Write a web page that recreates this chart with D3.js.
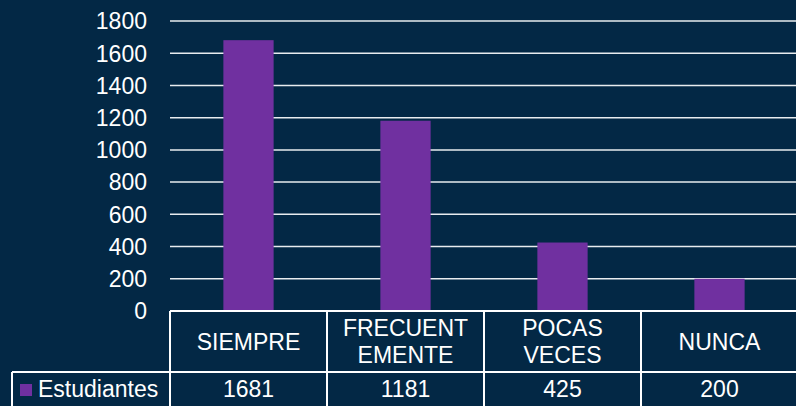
<!DOCTYPE html>
<html>
<head>
<meta charset="utf-8">
<script src="https://cdn.jsdelivr.net/npm/d3@7"></script>
<style>
  body { margin: 0; background: #032845; }
  svg { display: block; }
  text { font-family: "Liberation Sans", Arial, sans-serif; fill: #ffffff; }
</style>
</head>
<body>
<svg id="chart"></svg>
<script>
// data
var categories = ['SIEMPRE', 'FRECUENTEMENTE', 'POCAS VECES', 'NUNCA'];
var values = [1681, 1181, 425, 200];
var seriesName = 'Estudiantes';
var yTicks = [0, 200, 400, 600, 800, 1000, 1200, 1400, 1600, 1800];

var svgWidth = 796, svgHeight = 406;
var plotLeft = 170, plotRight = 798, plotTop = 21, plotBottom = 311;
var catRowBottom = 372, dataRowBottom = 408, legendLeft = 12;
var fontSize = 23;

var svg = d3.select('#chart')
  .attr('width', svgWidth)
  .attr('height', svgHeight);

svg.append('rect')
  .attr('width', svgWidth)
  .attr('height', svgHeight)
  .attr('fill', '#032845');

var x = d3.scaleBand()
  .domain(categories)
  .range([plotLeft, plotRight])
  .padding(0);

var y = d3.scaleLinear()
  .domain([0, 1800])
  .range([plotBottom, plotTop]);

// gridlines
svg.selectAll('.grid')
  .data(yTicks.filter(function(d) { return d > 0; }))
  .enter()
  .append('line')
  .attr('class', 'grid')
  .attr('x1', plotLeft)
  .attr('x2', plotRight)
  .attr('y1', function(d) { return y(d); })
  .attr('y2', function(d) { return y(d); })
  .attr('stroke', '#e8ecef')
  .attr('stroke-width', 1.5);

// y labels
svg.selectAll('.ylab')
  .data(yTicks)
  .enter()
  .append('text')
  .attr('class', 'ylab')
  .attr('x', plotLeft - 23)
  .attr('y', function(d) { return y(d); })
  .attr('dy', '0.36em')
  .attr('text-anchor', 'end')
  .style('font-size', fontSize + 'px')
  .text(function(d) { return d; });

// bars
var barWidth = x.bandwidth() * 0.32;
svg.selectAll('.bar')
  .data(values)
  .enter()
  .append('rect')
  .attr('class', 'bar')
  .attr('fill', '#7030a0')
  .attr('x', function(d, i) { return x(categories[i]) + (x.bandwidth() - barWidth) / 2; })
  .attr('y', function(d) { return y(d); })
  .attr('width', barWidth)
  .attr('height', function(d) { return y(0) - y(d); });

// data table
var border = svg.append('g')
  .attr('stroke', '#ffffff')
  .attr('stroke-width', 2)
  .attr('fill', 'none');

border.append('line').attr('x1', plotLeft).attr('x2', plotRight).attr('y1', plotBottom).attr('y2', plotBottom);
border.append('line').attr('x1', legendLeft).attr('x2', plotRight).attr('y1', catRowBottom).attr('y2', catRowBottom);
border.append('line').attr('x1', legendLeft).attr('x2', legendLeft).attr('y1', catRowBottom).attr('y2', dataRowBottom);
border.append('line').attr('x1', legendLeft).attr('x2', plotRight).attr('y1', dataRowBottom).attr('y2', dataRowBottom);

border.selectAll('.vline')
  .data(categories.concat(['end']))
  .enter()
  .append('line')
  .attr('x1', function(d, i) { return plotLeft + i * x.bandwidth(); })
  .attr('x2', function(d, i) { return plotLeft + i * x.bandwidth(); })
  .attr('y1', plotBottom)
  .attr('y2', dataRowBottom);

// category labels, wrapped to fit the cell
var maxTextWidth = 136;
var catText = svg.selectAll('.cat')
  .data(categories)
  .enter()
  .append('text')
  .attr('class', 'cat')
  .attr('text-anchor', 'middle')
  .style('font-size', fontSize + 'px');

catText.each(function(d, i) {
  var t = d3.select(this);
  var tmp = t.append('tspan');
  var lines = [], line = '';
  d.split(' ').forEach(function(word) {
    var cand = line ? line + ' ' + word : word;
    tmp.text(cand);
    if (tmp.node().getComputedTextLength() <= maxTextWidth) { line = cand; return; }
    if (line) { lines.push(line); line = ''; }
    // break long word by characters
    var chunk = '';
    word.split('').forEach(function(ch) {
      tmp.text(chunk + ch);
      if (tmp.node().getComputedTextLength() > maxTextWidth && chunk) { lines.push(chunk); chunk = ch; }
      else chunk = chunk + ch;
    });
    line = chunk;
  });
  if (line) lines.push(line);
  tmp.remove();
  var cx = x(d) + x.bandwidth() / 2;
  var cy = (plotBottom + catRowBottom) / 2;
  var lh = 27;
  lines.forEach(function(l, k) {
    t.append('tspan')
      .attr('x', cx)
      .attr('y', cy + (k - (lines.length - 1) / 2) * lh)
      .attr('dy', '0.36em')
      .text(l);
  });
});

// values row
svg.selectAll('.val')
  .data(values)
  .enter()
  .append('text')
  .attr('class', 'val')
  .attr('x', function(d, i) { return x(categories[i]) + x.bandwidth() / 2; })
  .attr('y', 389)
  .attr('dy', '0.36em')
  .attr('text-anchor', 'middle')
  .style('font-size', fontSize + 'px')
  .text(function(d) { return d; });

// legend key
svg.append('rect')
  .attr('x', 20)
  .attr('y', 384)
  .attr('width', 12)
  .attr('height', 12)
  .attr('fill', '#7030a0');

svg.append('text')
  .attr('x', 38)
  .attr('y', 389)
  .attr('dy', '0.36em')
  .style('font-size', fontSize + 'px')
  .text(seriesName);
</script>
</body>
</html>
